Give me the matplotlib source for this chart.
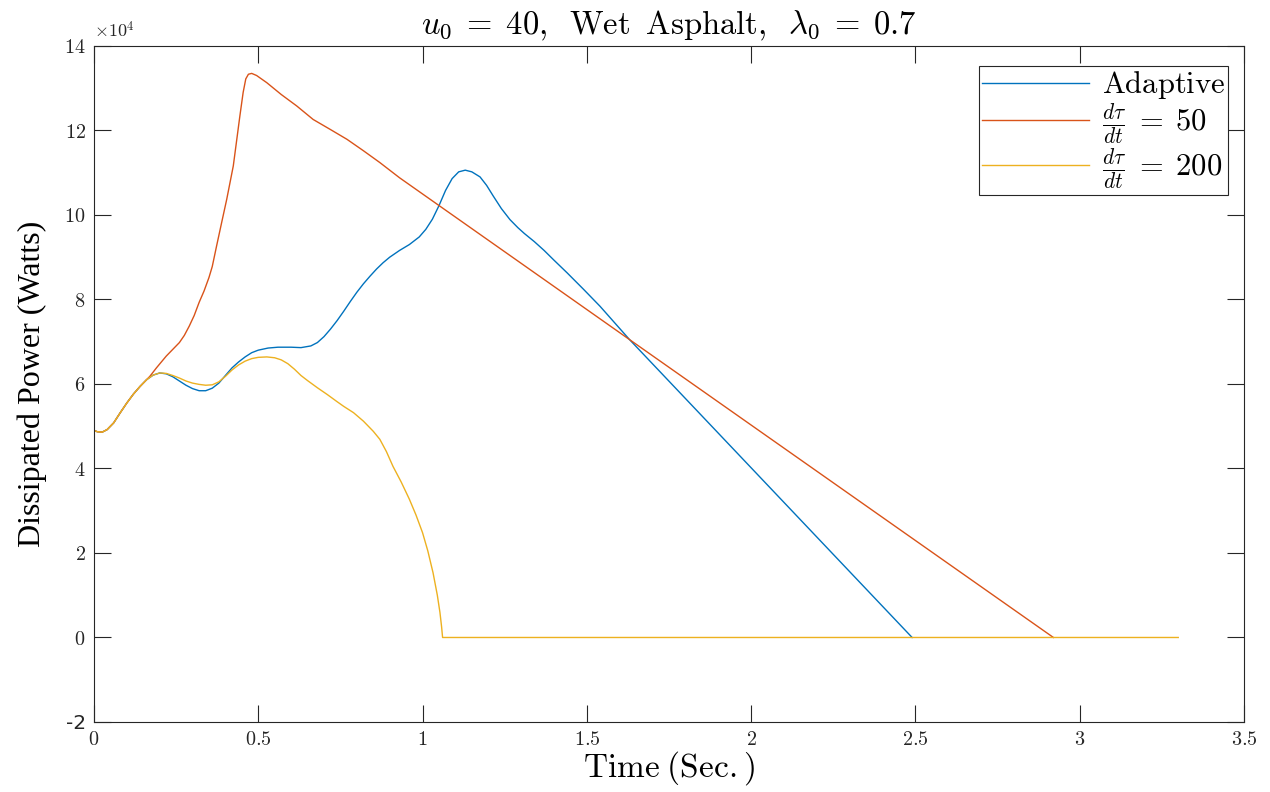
import matplotlib
matplotlib.use("Agg")
import matplotlib.pyplot as plt
from matplotlib.ticker import FuncFormatter

plt.rcParams['mathtext.fontset'] = 'cm'

# Data (power in units of 1e4 W)
t_adaptive = [0.0, 0.01, 0.025, 0.04, 0.06, 0.08, 0.10, 0.12, 0.14, 0.16, 0.18, 0.20, 0.22,
              0.24, 0.26, 0.28, 0.30, 0.32, 0.34, 0.36, 0.38, 0.40, 0.42, 0.44, 0.46, 0.48,
              0.50, 0.53, 0.56, 0.60, 0.63, 0.66, 0.68, 0.70, 0.72, 0.74, 0.76, 0.78, 0.80,
              0.82, 0.84, 0.86, 0.88, 0.90, 0.93, 0.96, 0.99, 1.01, 1.03, 1.05, 1.07, 1.09,
              1.11, 1.13, 1.15, 1.175, 1.195, 1.215, 1.24, 1.266, 1.29, 1.31, 1.34, 1.37,
              1.40, 1.44, 1.49, 1.54, 1.63, 2.49]
p_adaptive = [4.90, 4.87, 4.86, 4.92, 5.08, 5.32, 5.55, 5.76, 5.94, 6.10, 6.21, 6.26, 6.24,
              6.17, 6.07, 5.97, 5.89, 5.84, 5.84, 5.90, 6.02, 6.20, 6.38, 6.52, 6.64, 6.74,
              6.80, 6.85, 6.87, 6.87, 6.86, 6.90, 6.98, 7.12, 7.30, 7.50, 7.72, 7.95, 8.17,
              8.37, 8.55, 8.72, 8.87, 9.00, 9.16, 9.30, 9.48, 9.66, 9.90, 10.22, 10.58, 10.86,
              11.02, 11.06, 11.02, 10.90, 10.70, 10.45, 10.15, 9.89, 9.70, 9.56, 9.37, 9.16,
              8.93, 8.63, 8.24, 7.84, 7.05, 0.0]

t_rate50 = [0.0, 0.01, 0.025, 0.04, 0.06, 0.08, 0.10, 0.12, 0.14, 0.16, 0.17, 0.19, 0.22,
            0.24, 0.26, 0.275, 0.29, 0.305, 0.32, 0.335, 0.35, 0.36, 0.373, 0.388, 0.404,
            0.424, 0.444, 0.454, 0.462, 0.470, 0.480, 0.495, 0.526, 0.57, 0.617, 0.667, 0.72,
            0.77, 0.82, 0.87, 0.93, 1.63, 2.92]
p_rate50 = [4.90, 4.87, 4.86, 4.92, 5.08, 5.32, 5.55, 5.76, 5.94, 6.10, 6.18, 6.38, 6.66,
            6.82, 6.98, 7.15, 7.37, 7.62, 7.93, 8.20, 8.52, 8.78, 9.26, 9.80, 10.37,
            11.16, 12.34, 12.90, 13.22, 13.33, 13.35, 13.30, 13.13, 12.85, 12.58, 12.26, 12.02,
            11.79, 11.52, 11.24, 10.88, 7.05, 0.0]

t_rate200 = [0.0, 0.01, 0.025, 0.04, 0.06, 0.08, 0.10, 0.12, 0.14, 0.16, 0.18, 0.20, 0.22,
             0.24, 0.26, 0.28, 0.30, 0.32, 0.34, 0.36, 0.38, 0.40, 0.42, 0.44, 0.46, 0.48,
             0.50, 0.526, 0.55, 0.57, 0.59, 0.61, 0.63, 0.65, 0.68, 0.71, 0.74, 0.76, 0.79,
             0.82, 0.85, 0.87, 0.89, 0.91, 0.935, 0.96, 0.98, 1.0, 1.016, 1.032, 1.045, 1.053,
             1.058, 1.061, 3.30]
p_rate200 = [4.90, 4.87, 4.86, 4.92, 5.08, 5.32, 5.55, 5.76, 5.94, 6.10, 6.21, 6.26, 6.25,
             6.20, 6.14, 6.07, 6.02, 5.99, 5.97, 5.98, 6.05, 6.18, 6.33, 6.45, 6.54, 6.60,
             6.63, 6.64, 6.62, 6.57, 6.48, 6.35, 6.20, 6.08, 5.91, 5.75, 5.58, 5.47, 5.32,
             5.12, 4.88, 4.69, 4.40, 4.05, 3.68, 3.27, 2.90, 2.48, 2.05, 1.53, 1.00, 0.59,
             0.25, 0.0, 0.0]

labels = [r'$\mathrm{Adaptive}$', r'$\frac{d\tau}{dt}\;=\;50$', r'$\frac{d\tau}{dt}\;=\;200$']
colors = ['#0072BD', '#D95319', '#EDB120']

x_ticks = [0, 0.5, 1, 1.5, 2, 2.5, 3, 3.5]
y_ticks = [-2, 0, 2, 4, 6, 8, 10, 12, 14]

fig = plt.figure(figsize=(12.7, 7.92), dpi=100)
ax = fig.add_axes([0.074, 0.0884, 0.9055, 0.8536])

ax.plot(t_adaptive, p_adaptive, color=colors[0], lw=1.0, label=labels[0])
ax.plot(t_rate50, p_rate50, color=colors[1], lw=1.0, label=labels[1])
ax.plot(t_rate200, p_rate200, color=colors[2], lw=1.0, label=labels[2])

ax.set_xlim(0, 3.5)
ax.set_ylim(-2, 14)
ax.set_xticks(x_ticks)
ax.set_yticks(y_ticks)

def fmt(v, pos):
    s = ('%g' % v)
    return r'$%s$' % s if v >= 0 else s
ax.xaxis.set_major_formatter(FuncFormatter(fmt))
ax.yaxis.set_major_formatter(FuncFormatter(fmt))

ax.tick_params(direction='in', length=12, width=0.8, colors='#262626', labelsize=14.5,
               top=True, right=True, pad=6)
for s in ax.spines.values():
    s.set_color('#262626')
    s.set_linewidth(0.8)

ax.text(0.0, 1.006, r'$\times10^{4}$', transform=ax.transAxes, ha='left', va='bottom',
        fontsize=13, color='#262626')

ax.set_title(r'$u_0\;=\;40,\;\;\mathrm{Wet\;\;Asphalt},\;\;\lambda_0\;=\;0.7$', fontsize=23.5, pad=8)
ax.set_xlabel(r'$\mathrm{Time\;(Sec.)}$', fontsize=24, labelpad=0)
ax.set_ylabel('Dissipated Power (Watts)', fontsize=23, family='Liberation Serif', labelpad=12)

leg = ax.legend(loc='upper right', bbox_to_anchor=(0.9865, 0.97), fontsize=22, frameon=True,
                fancybox=False, framealpha=1, edgecolor='#262626', handlelength=3.5,
                handletextpad=0.42, borderpad=0.1, labelspacing=0.0, borderaxespad=0.0)
leg.get_frame().set_linewidth(0.8)

fig.savefig('out.png', dpi=100)
